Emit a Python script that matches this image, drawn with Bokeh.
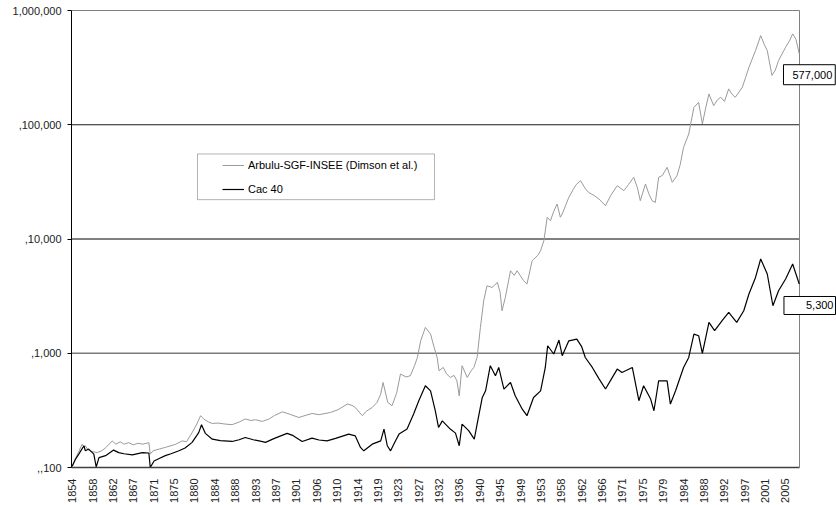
import math
from bokeh.plotting import figure
from bokeh.models import (Range1d, FixedTicker, Legend, LegendItem,
                          BoxAnnotation, Label)
from bokeh.embed import file_html
from bokeh.resources import INLINE

# ---------------- data ----------------
arbulu_years = [1854.0, 1854.6, 1855.3, 1856.1, 1856.5, 1856.8, 1857.4, 1858.2, 1859.3, 1860.3,
                1861.2, 1862.5, 1863.3, 1864.2, 1865.0, 1866.0, 1867.0, 1868.0, 1869.0, 1870.3,
                1870.6, 1871.2, 1872.5, 1873.8, 1875.0, 1876.0, 1877.4, 1878.3, 1879.5, 1880.5,
                1881.3, 1882.0, 1883.0, 1883.8, 1885.0, 1886.5, 1888.0, 1889.5, 1890.8, 1892.0,
                1893.0, 1894.4, 1895.8, 1897.0, 1898.7, 1899.5, 1900.5, 1902.2, 1903.5, 1905.0,
                1906.5, 1908.9, 1910.5, 1912.5, 1913.5, 1914.2, 1915.7, 1916.5, 1917.8, 1918.8,
                1919.6, 1920.1, 1921.1, 1922.0, 1923.0, 1923.8, 1925.0, 1925.9, 1926.8, 1927.4,
                1928.1, 1929.1, 1930.2, 1930.9, 1931.6, 1932.0, 1932.9, 1933.6, 1934.4, 1935.2,
                1935.8, 1936.3, 1936.9, 1938.0, 1938.8, 1939.4, 1940.1, 1940.8, 1941.5, 1942.2,
                1943.3, 1944.4, 1945.0, 1945.4, 1946.1, 1947.2, 1948.0, 1948.6, 1950.0, 1950.7,
                1951.8, 1953.0, 1953.6, 1954.3, 1955.0, 1955.7, 1956.4, 1957.1, 1957.8, 1958.2,
                1959.6, 1960.5, 1961.2, 1962.1, 1963.0, 1963.8, 1965.0, 1966.0, 1967.4, 1968.5,
                1969.9, 1971.3, 1972.3, 1973.4, 1974.2, 1974.8, 1975.9, 1976.6, 1977.3, 1978.0,
                1978.7, 1979.5, 1980.5, 1981.6, 1982.6, 1983.3, 1984.0, 1985.1, 1986.2, 1987.2,
                1988.0, 1988.7, 1989.4, 1990.4, 1991.2, 1991.9, 1992.7, 1993.6, 1994.3, 1995.0,
                1996.5, 1997.2, 1997.9, 1999.3, 2000.4, 2001.2, 2001.8, 2002.8, 2003.5, 2004.2,
                2005.7, 2006.5, 2007.2, 2007.9, 2008.6]
arbulu_values = [100, 118, 135, 160, 150, 155, 142, 138, 135, 140,
                 150, 171, 160, 168, 160, 165, 158, 163, 160, 165,
                 131, 140, 145, 150, 155, 160, 171, 168, 202, 240,
                 284, 265, 250, 243, 245, 240, 237, 250, 266, 258,
                 262, 253, 265, 285, 307, 300, 290, 274, 285, 297,
                 290, 303, 320, 359, 350, 335, 284, 310, 335, 370,
                 439, 555, 371, 347, 450, 658, 620, 636, 780, 918,
                 1285, 1682, 1472, 1150, 918, 703, 751, 660, 614, 640,
                 574, 424, 778, 614, 700, 751, 918, 1682, 2879, 3897,
                 3767, 4169, 3400, 2354, 3080, 5272, 4800, 5272, 4312, 4037,
                 6450, 7200, 7900, 9670, 15460, 14450, 17500, 20240, 15500, 16560,
                 23140, 27000, 30000, 32370, 28000, 25580, 24000, 22400, 19570, 24000,
                 29300, 26500, 30000, 34650, 28000, 21650, 30300, 25000, 21650, 20900,
                 34650, 36000, 42400, 31350, 35800, 45000, 63400, 83000, 142000, 157000,
                 101600, 140000, 186000, 147000, 165000, 174000, 160000, 206000, 185000, 174000,
                 213000, 260000, 318000, 446000, 603000, 500000, 446000, 270000, 300000, 365000,
                 477000, 540000, 624000, 560000, 417000]

cac_years = [1854.0, 1854.7, 1855.4, 1856.5, 1856.8, 1857.5, 1858.6, 1859.1, 1859.7, 1861.1,
             1862.8, 1863.9, 1865.0, 1866.8, 1868.9, 1870.3, 1870.6, 1871.4, 1872.5, 1873.8,
             1875.0, 1876.7, 1878.0, 1879.5, 1880.9, 1881.5, 1882.3, 1883.8, 1885.5, 1888.0,
             1889.5, 1890.8, 1892.5, 1894.0, 1895.1, 1897.0, 1899.7, 1901.0, 1902.9, 1905.0,
             1906.5, 1908.2, 1910.0, 1912.8, 1914.2, 1915.3, 1916.0, 1917.8, 1919.6, 1920.3,
             1921.0, 1921.7, 1922.7, 1923.5, 1925.2, 1926.6, 1927.7, 1929.1, 1930.2, 1931.2,
             1931.9, 1932.7, 1934.4, 1935.5, 1936.3, 1936.9, 1938.3, 1939.5, 1940.1, 1941.2,
             1941.9, 1942.9, 1944.0, 1944.7, 1945.8, 1947.2, 1948.2, 1949.7, 1950.7, 1952.1,
             1953.6, 1954.6, 1955.1, 1956.4, 1957.5, 1958.2, 1959.6, 1961.3, 1962.3, 1963.1,
             1964.6, 1966.0, 1967.4, 1968.7, 1969.9, 1970.9, 1973.1, 1974.5, 1975.5, 1977.0,
             1977.7, 1978.7, 1980.5, 1981.2, 1982.3, 1984.0, 1985.1, 1986.2, 1987.2, 1988.0,
             1989.4, 1990.6, 1992.2, 1993.6, 1995.3, 1996.8, 1997.9, 1999.3, 2000.4, 2001.8,
             2003.0, 2004.2, 2005.7, 2007.2, 2008.6]
cac_values = [103, 118, 131, 155, 140, 145, 131, 101, 122, 127,
              142, 135, 132, 129, 135, 134, 100, 114, 120, 127,
              132, 140, 148, 166, 202, 237, 199, 177, 172, 169,
              175, 183, 175, 170, 166, 180, 199, 190, 169, 181,
              174, 171, 180, 196, 189, 150, 140, 160, 171, 217,
              155, 140, 170, 196, 217, 294, 384, 519, 469, 314,
              224, 256, 217, 200, 155, 240, 210, 177, 240, 410,
              469, 778, 636, 751, 486, 555, 424, 324, 284, 410,
              469, 751, 1163, 985, 1306, 951, 1285, 1330, 1150, 918,
              751, 600, 486, 600, 727, 679, 751, 384, 519, 397,
              314, 574, 574, 359, 469, 751, 918, 1472, 1423, 995,
              1862, 1575, 1929, 2276, 1862, 2354, 3300, 4610, 6680, 4940,
              2605, 3520, 4470, 6040, 4040]

series_names = ["Arbulu-SGF-INSEE (Dimson et al.)", "Cac 40"]
end_labels = ["577,000", "5,300"]

y_ticks = [100, 1000, 10000, 100000, 1000000]
y_tick_labels = [",,100", ",1,000", ",10,000", ",100,000", "1,000,000"]
grid_values = [1000, 10000, 100000, 1000000]
grid_colors = ["#7a7a7a", "#000000", "#1a1a1a", "#808080"]
grid_widths = [1.5, 1, 1, 1]

x_tick_labels = ["1854", "1858", "1862", "1867", "1871", "1875", "1880", "1884", "1888",
                 "1893", "1897", "1901", "1906", "1910", "1914", "1919", "1923", "1927",
                 "1932", "1936", "1940", "1945", "1949", "1953", "1958", "1962", "1966",
                 "1971", "1975", "1979", "1984", "1988", "1992", "1997", "2001", "2005"]
# labels every 52 months starting January 1854
x_ticks = [round(1854 + 52 * k / 12, 3) for k in range(len(x_tick_labels))]

FONT = "Liberation Sans"
X0 = 1853.851      # left edge of the chart area
XE = 2008.65       # right border of the chart area
XR = 2016.52       # canvas edge (room for the value boxes)

p = figure(width=836, height=505, x_range=Range1d(X0, XR),
           y_range=Range1d(100, 10 ** (6 + 1 / 114.25)),
           y_axis_type="log", output_backend="svg", toolbar_location=None,
           min_border_left=71, min_border_right=0, min_border_top=9, min_border_bottom=38,
           background_fill_color="white", border_fill_color="white")
p.outline_line_color = None
p.grid.visible = False

# horizontal gridlines (top one is the chart's top border) and right border
p.segment(x0=[X0] * len(grid_values), x1=[XE] * len(grid_values),
          y0=grid_values, y1=grid_values, line_color=grid_colors, line_width=grid_widths)
p.segment(x0=[XE], x1=[XE], y0=[100], y1=[1000000], line_color="#808080", line_width=1)

r1 = p.line(arbulu_years, arbulu_values, line_color="#9a9a9a", line_width=1)
r2 = p.line(cac_years, cac_values, line_color="#000000", line_width=1.2)

# y axis
ya = p.yaxis[0]
ya.ticker = FixedTicker(ticks=y_ticks)
ya.major_label_overrides = {t: l for t, l in zip(y_ticks, y_tick_labels)}
ya.bounds = (100, 1000000)
ya.minor_tick_line_color = None
ya.major_tick_out = 4
ya.major_tick_in = 0
ya.major_tick_line_color = "black"
ya.axis_line_color = "black"
ya.major_label_standoff = 6
ya.major_label_text_font = FONT
ya.major_label_text_font_size = "11px"
ya.major_label_text_color = "#222222"

# x axis
xa = p.xaxis[0]
xa.ticker = FixedTicker(ticks=x_ticks)
xa.major_label_overrides = {t: l for t, l in zip(x_ticks, x_tick_labels)}
xa.bounds = (X0, XE)
xa.major_label_orientation = math.pi / 2
xa.minor_tick_line_color = None
xa.major_tick_line_color = None
xa.major_tick_out = 0
xa.major_tick_in = 0
xa.axis_line_color = "#404040"
xa.axis_line_width = 1.3
xa.major_label_standoff = 11
xa.major_label_text_font = FONT
xa.major_label_text_font_size = "11px"
xa.major_label_text_color = "#222222"

# legend frame and legend
p.add_layout(BoxAnnotation(left=1880.64, right=1931.03, bottom=22100, top=55500,
                           fill_alpha=0, line_color="black", line_width=1))
legend = Legend(items=[LegendItem(label=series_names[0], renderers=[r1]),
                       LegendItem(label=series_names[1], renderers=[r2])],
                location=(151, 268), padding=0, margin=0, spacing=4,
                glyph_width=22, glyph_height=20, label_height=20, label_standoff=4,
                border_line_color=None, background_fill_alpha=0,
                label_text_font=FONT, label_text_font_size="11px",
                label_text_color="black")
p.add_layout(legend)

# end value labels (padding given as left, right, top, bottom)
p.add_layout(Label(x=XE, y=10 ** 5.438, text=end_labels[0], x_offset=-16,
                   text_align="left", text_baseline="middle", text_font=FONT,
                   text_font_size="11px", text_color="black",
                   border_line_color="black", background_fill_color="white",
                   padding=(9, 3, 6, 6)))
p.add_layout(Label(x=XE, y=10 ** 3.418, text=end_labels[1], x_offset=36,
                   text_align="right", text_baseline="middle", text_font=FONT,
                   text_font_size="11px", text_color="black",
                   border_line_color="black", background_fill_color="white",
                   padding=(22, 2, 5, 5)))

open("out.html", "w").write(file_html(p, INLINE))
